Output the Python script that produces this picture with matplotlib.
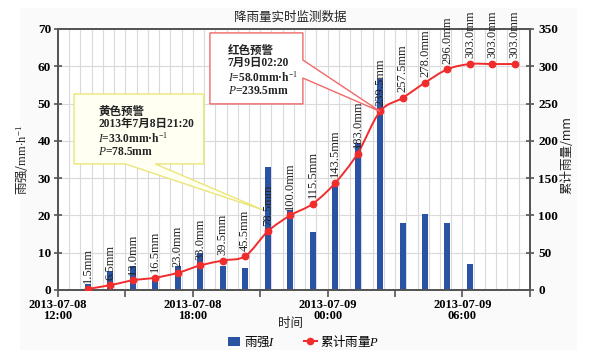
import matplotlib

matplotlib.use("Agg")
import matplotlib.dates as mdates
import matplotlib.pyplot as plt
import numpy as np
import pandas as pd
from matplotlib.lines import Line2D
from matplotlib.patches import Patch, PathPatch, Polygon, Rectangle
from matplotlib.path import Path
from matplotlib.ticker import FuncFormatter, MultipleLocator

# hourly observations (cumulative label values and hourly increments)
times = [
    "2013-07-08 13:20", "2013-07-08 14:20", "2013-07-08 15:20", "2013-07-08 16:20",
    "2013-07-08 17:20", "2013-07-08 18:20", "2013-07-08 19:20", "2013-07-08 20:20",
    "2013-07-08 21:20", "2013-07-08 22:20", "2013-07-08 23:20", "2013-07-09 00:20",
    "2013-07-09 01:20", "2013-07-09 02:20", "2013-07-09 03:20", "2013-07-09 04:20",
    "2013-07-09 05:20", "2013-07-09 06:20", "2013-07-09 07:20", "2013-07-09 08:20",
]
intensity = [1.5, 5.0, 6.5, 3.5, 6.5, 10.0, 6.5, 6.0, 33.0, 21.5,
             15.5, 28.0, 39.5, 56.5, 18.0, 20.5, 18.0, 7.0, 0.0, 0.0]
cumulative = [1.5, 6.5, 13.0, 16.5, 23.0, 33.0, 39.5, 45.5, 78.5, 100.0,
              115.5, 143.5, 183.0, 239.5, 257.5, 278.0, 296.0, 303.0, 303.0, 303.0]

x_start = "2013-07-08 12:00"
x_end = "2013-07-09 09:00"

yellow_text = "黄色预警\n2013年7月8日21:20\n$I$=33.0mm·h$^{-1}$\n$P$=78.5mm"
yellow_target = ("2013-07-08 21:07", 21.5)
red_text = "红色预警\n7月9日02:20\n$I$=58.0mm·h$^{-1}$\n$P$=239.5mm"
red_target = ("2013-07-09 02:20", 239.5)

SERIF = ["Liberation Serif", "Noto Sans CJK SC", "DejaVu Serif"]
CJK = ["Noto Sans CJK SC", "Liberation Serif", "DejaVu Sans"]
BAR_COLOR = "#2a53a4"
LINE_COLOR = "#f02c2c"
SPINE_COLOR = "#555555"
GRID_COLOR = "#dadada"

plt.rcParams["font.family"] = SERIF
plt.rcParams["mathtext.fontset"] = "custom"
plt.rcParams["mathtext.rm"] = "Liberation Serif"
plt.rcParams["mathtext.it"] = "Liberation Serif:italic"
plt.rcParams["mathtext.bf"] = "Liberation Serif:bold"


def smooth_path(xs: np.ndarray, ys: np.ndarray) -> Path:
    # Catmull-Rom style bezier through the points, like the spreadsheet "smoothed line"
    pts = np.column_stack([xs, ys])
    verts = [pts[0]]
    codes = [Path.MOVETO]
    n = len(pts)
    for i in range(n - 1):
        p0 = pts[i - 1] if i > 0 else pts[i]
        p1 = pts[i]
        p2 = pts[i + 1]
        p3 = pts[i + 2] if i + 2 < n else pts[i + 1]
        verts += [p1 + (p2 - p0) / 6.0, p2 - (p3 - p1) / 6.0, p2]
        codes += [Path.CURVE4] * 3
    return Path(verts, codes)


def to_axes(ax, data_ax, point):
    disp = data_ax.transData.transform((mdates.date2num(pd.Timestamp(point[0])), point[1]))
    return ax.transAxes.inverted().transform(disp)


fig = plt.figure(figsize=(5.92, 3.57), dpi=100, facecolor="white")
fig.patches.append(
    Rectangle((0.034, 0.02), 0.941, 0.958, transform=fig.transFigure,
              facecolor="#fafafa", edgecolor="none", zorder=-10)
)

ax = fig.add_axes([0.098, 0.1877, 0.797, 0.7311])
ax2 = ax.twinx()

t = pd.to_datetime(times)
tnum = mdates.date2num(t)

ax.bar(t, intensity, width=16 / 1440, color=BAR_COLOR, zorder=2)
ax.set_ylim(0, 70)
ax.yaxis.set_major_locator(MultipleLocator(10))
ax.set_xlim(pd.Timestamp(x_start), pd.Timestamp(x_end))
ax.set_axisbelow(True)
ax.set_facecolor("white")

ax.xaxis.set_major_locator(mdates.HourLocator(byhour=range(0, 24, 3)))
ax.xaxis.set_minor_locator(mdates.MinuteLocator(byminute=[0, 30]))
ax.xaxis.set_major_formatter(
    FuncFormatter(lambda v, pos: mdates.num2date(v).strftime("%Y-%m-%d\n%H:%M")
                  if mdates.num2date(v).hour % 6 == 0 else "")
)
ax.grid(axis="x", which="both", color=GRID_COLOR, linewidth=0.8)
ax.grid(axis="y", which="major", color=GRID_COLOR, linewidth=0.8)
ax.tick_params(axis="x", which="major", direction="out", length=5, width=1.2,
               color=SPINE_COLOR, pad=1.5, labelsize=9)
ax.tick_params(axis="x", which="minor", length=0)
ax.tick_params(axis="y", direction="inout", length=6, width=1.2, color=SPINE_COLOR,
               pad=2, labelsize=9.5)
for lbl in ax.get_xticklabels() + ax.get_yticklabels():
    lbl.set_fontweight("bold")
    lbl.set_linespacing(0.85)

ax2.set_ylim(0, 350)
ax2.yaxis.set_major_locator(MultipleLocator(50))
ax2.tick_params(axis="y", direction="inout", length=6, width=1.2, color=SPINE_COLOR,
                pad=3, labelsize=9.5)
for lbl in ax2.get_yticklabels():
    lbl.set_fontweight("bold")

for a in (ax, ax2):
    for side in ("left", "right", "top", "bottom"):
        a.spines[side].set_color(SPINE_COLOR)
        a.spines[side].set_linewidth(1.3)

curve = smooth_path(tnum, np.asarray(cumulative))
ax2.add_patch(PathPatch(curve, facecolor="none", edgecolor=LINE_COLOR, linewidth=1.4, zorder=3))
ax2.plot(t, cumulative, linestyle="none", marker="o", markersize=4.6,
         color=LINE_COLOR, zorder=4)

for ti, v in zip(t, cumulative):
    ax2.annotate(f"{v:.1f}mm", (ti, v), xytext=(0, 4), textcoords="offset points",
                 rotation=90, ha="center", va="bottom", fontsize=9,
                 color="#222222", zorder=5, annotation_clip=False)

# yellow callout (box with wedge on the bottom edge)
tip = to_axes(ax2, ax, yellow_target)
yellow_poly = [(0.034, 0.751), (0.309, 0.751), (0.309, 0.483), (0.206, 0.483),
               tuple(tip), (0.142, 0.483), (0.034, 0.483)]
ax2.add_patch(Polygon(yellow_poly, closed=True, transform=ax2.transAxes,
                      facecolor="#fffff2", edgecolor="#ebe67a", linewidth=1.0,
                      zorder=6, clip_on=False))
ax2.text(0.085, 0.705, yellow_text, transform=ax2.transAxes, ha="left", va="top",
         fontsize=8.3, fontweight="bold", linespacing=1.05, color="#222222", zorder=7)

# red callout (box with wedge on the right edge)
tip = to_axes(ax2, ax2, red_target)
red_poly = [(0.322, 0.985), (0.519, 0.985), (0.519, 0.881), tuple(tip),
            (0.519, 0.812), (0.519, 0.713), (0.322, 0.713)]
ax2.add_patch(Polygon(red_poly, closed=True, transform=ax2.transAxes,
                      facecolor="white", edgecolor="#f06868", linewidth=1.0,
                      zorder=6, clip_on=False))
ax2.text(0.360, 0.940, red_text, transform=ax2.transAxes, ha="left", va="top",
         fontsize=8.3, fontweight="bold", linespacing=1.05, color="#222222", zorder=7)

fig.text(0.49, 0.952, "降雨量实时监测数据", ha="center", va="center",
         fontsize=9, family=CJK, color="#222222")
fig.text(0.49, 0.093, "时间", ha="center", va="center", fontsize=9, family=CJK,
         color="#222222")
fig.text(0.039, 0.552, r"雨强/$\mathrm{mm{\cdot}h}^{-1}$", rotation=90, ha="center",
         va="center", fontsize=9, family=CJK, color="#222222")
fig.text(0.958, 0.566, "累计雨量/mm", rotation=90, ha="center", va="center",
         fontsize=9, family=CJK, color="#222222")

handles = [
    Patch(facecolor=BAR_COLOR, edgecolor="none"),
    Line2D([], [], color=LINE_COLOR, marker="o", markersize=4.5, linewidth=1.5),
]
fig.legend(handles, ["雨强$I$", "累计雨量$P$"], loc="center", bbox_to_anchor=(0.513, 0.045),
           ncol=2, frameon=False, prop={"family": CJK, "size": 9},
           handlelength=1.0, handleheight=0.7, handletextpad=0.3, columnspacing=2.3)

fig.savefig("out.png", dpi=100, facecolor=fig.get_facecolor())
